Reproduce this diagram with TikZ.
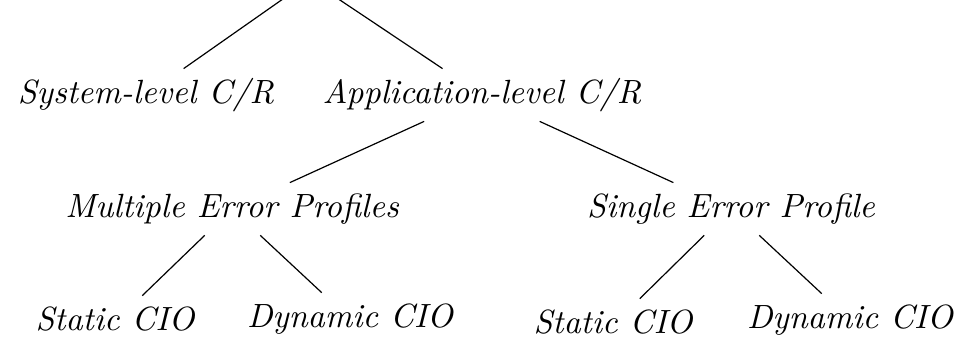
\documentclass[tikz,border=0pt]{standalone}
\usepackage{fontspec}
% Latin Modern italic, 10pt design scaled up for the tree labels
\newfontfamily\lmtenit{lmroman10-italic}[Extension=.otf]
\begin{document}
\begin{tikzpicture}[x=0.5pt,y=-0.5pt,
  tnode/.style={inner xsep=2pt, inner ysep=5pt, text height=12pt, text depth=4pt,
                font=\lmtenit\fontsize{16.8}{20}\selectfont},
  link/.style={line width=0.6pt, black}]
\useasboundingbox (0,0) rectangle (961,337);

% root sits above the visible area
\node[tnode] (root) at (310,-20) {};

% level 1
\node[tnode, anchor=base] (sys) at (146,103) {System-level C/R};
\node[tnode, anchor=base] (app) at (482,103) {Application-level C/R};

% level 2
\node[tnode, anchor=base] (mep) at (232,217) {Multiple Error Profiles};
\node[tnode, anchor=base] (sep) at (731,217) {Single Error Profile};

% leaves
\node[tnode, anchor=base] (ms) at (115,330) {Static CIO};
\node[tnode, anchor=base] (md) at (350,327) {Dynamic CIO};
\node[tnode, anchor=base] (ss) at (613,333) {Static CIO};
\node[tnode, anchor=base] (sd) at (850,328) {Dynamic CIO};

% edges
\draw[link] (root) -- (sys);
\draw[link] (root) -- (app);
\draw[link] (app) -- (mep);
\draw[link] (app) -- (sep);
\draw[link] (mep) -- (ms);
\draw[link] (mep) -- (md);
\draw[link] (sep) -- (ss);
\draw[link] (sep) -- (sd);
\end{tikzpicture}
\end{document}
